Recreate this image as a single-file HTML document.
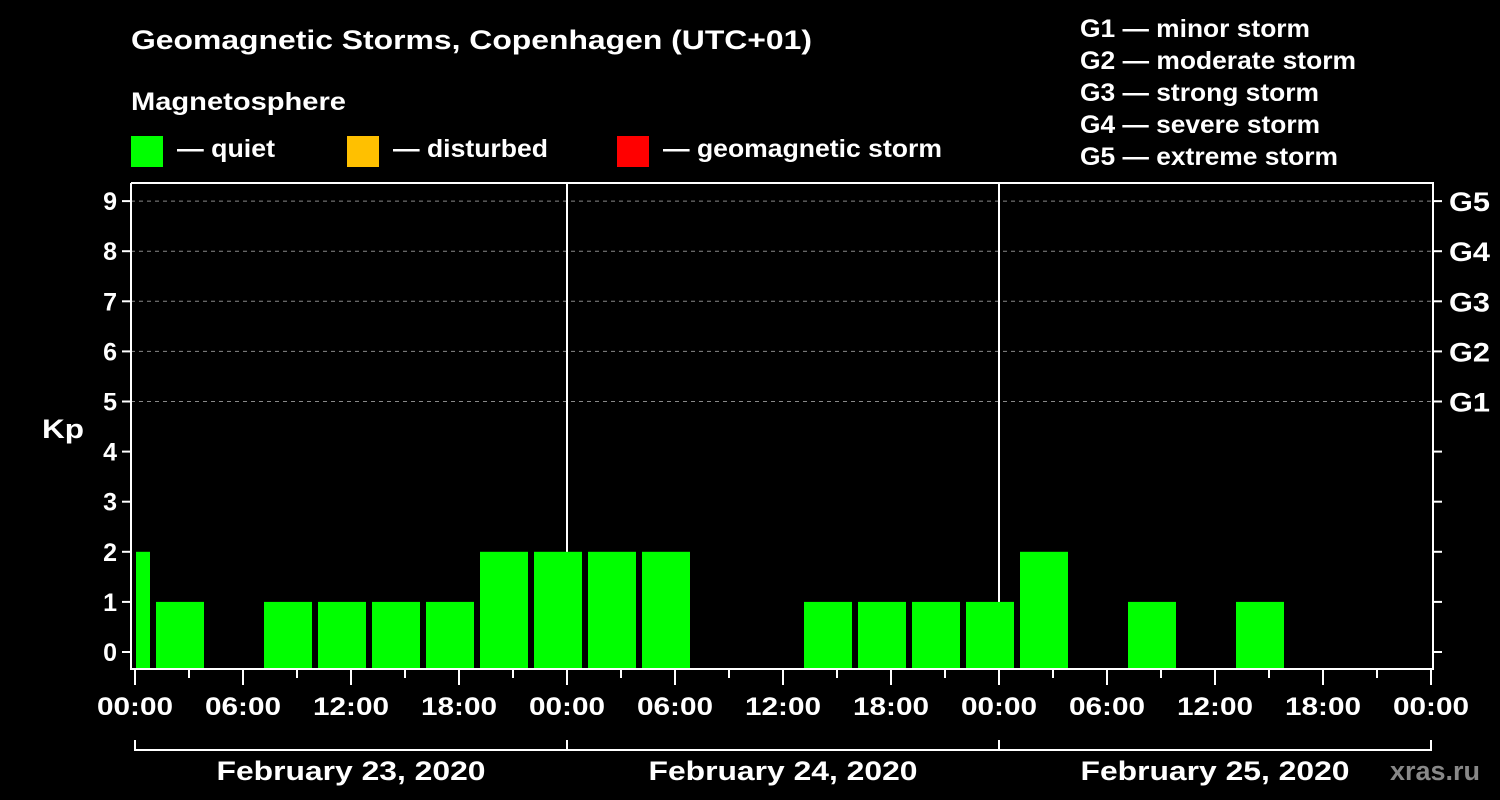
<!DOCTYPE html>
<html><head><meta charset="utf-8"><style>
body{margin:0;background:#000;}
svg{display:block;font-family:"Liberation Sans",Arial,sans-serif;font-weight:bold;}
</style></head><body>
<svg width="1500" height="800" viewBox="0 0 1500 800" font-family="Liberation Sans, Arial, sans-serif" font-weight="bold">
<rect width="1500" height="800" fill="#000"/>
<text x="131" y="49" fill="#fff" font-size="27" textLength="681" lengthAdjust="spacingAndGlyphs">Geomagnetic Storms, Copenhagen (UTC+01)</text>
<text x="131" y="110" fill="#fff" font-size="25" textLength="215" lengthAdjust="spacingAndGlyphs">Magnetosphere</text>
<g><rect x="131" y="136" width="32" height="31" fill="#00ff00"/><text x="177" y="157" fill="#fff" font-size="25" textLength="98" lengthAdjust="spacingAndGlyphs">— quiet</text></g>
<g><rect x="347" y="136" width="32" height="31" fill="#ffc000"/><text x="393" y="157" fill="#fff" font-size="25" textLength="155" lengthAdjust="spacingAndGlyphs">— disturbed</text></g>
<g><rect x="617" y="136" width="32" height="31" fill="#ff0000"/><text x="663" y="157" fill="#fff" font-size="25" textLength="279" lengthAdjust="spacingAndGlyphs">— geomagnetic storm</text></g>
<g fill="#fff" font-size="25">
<text x="1080" y="37" textLength="230" lengthAdjust="spacingAndGlyphs">G1 — minor storm</text>
<text x="1080" y="69" textLength="276" lengthAdjust="spacingAndGlyphs">G2 — moderate storm</text>
<text x="1080" y="101" textLength="239" lengthAdjust="spacingAndGlyphs">G3 — strong storm</text>
<text x="1080" y="133" textLength="240" lengthAdjust="spacingAndGlyphs">G4 — severe storm</text>
<text x="1080" y="165" textLength="258" lengthAdjust="spacingAndGlyphs">G5 — extreme storm</text>
</g>
<text x="42" y="438" fill="#fff" font-size="27" textLength="42" lengthAdjust="spacingAndGlyphs">Kp</text>
<text x="1390" y="780" fill="#888" font-size="27" textLength="90" lengthAdjust="spacingAndGlyphs">xras.ru</text>
<g id="grid"></g><g id="bars"></g><g id="axes"></g>
</svg>
<script>
const kpTicks=[0,1,2,3,4,5,6,7,8,9];
const gLabels=["G1","G2","G3","G4","G5"];
const hourLabels=["00:00","06:00","12:00","18:00"];
const dayLabels=["February 23, 2020","February 24, 2020","February 25, 2020"];
// first partial bar (Feb 23 00:00-01:00) then 3h slots starting Feb 23 01:00 (UTC+01)
const firstPartial=2;
const kpValues=[1,0,1,1,1,1,2,2,2,2,0,0,1,1,1,1,2,0,1,0,1,0,0,0];
const NS="http://www.w3.org/2000/svg";
const x0=135,pxH=18,y0=652,pxK=50.1,base=668,plotL=131,plotR=1433,plotT=183;
const X=h=>x0+h*pxH, Y=k=>y0-k*pxK;
function mk(t,a,p){const e=document.createElementNS(NS,t);for(const k in a)e.setAttribute(k,a[k]);p.appendChild(e);return e;}
const grid=document.getElementById('grid'),bars=document.getElementById('bars'),axes=document.getElementById('axes');
[5,6,7,8,9].forEach(k=>{const l=mk('line',{x1:plotL,x2:plotR,y1:Y(k),y2:Y(k),stroke:'#888','stroke-dasharray':'4,4','stroke-width':1},grid);

});
[24,48].forEach(h=>{const l=mk('line',{x1:X(h),x2:X(h),y1:plotT,y2:base,stroke:'#fff','stroke-width':2},grid);

});
function col(v){return v>=5?'#ff0000':(v>=4?'#ffc000':'#00ff00');}
if(firstPartial>0){const r=mk('rect',{x:X(0)+1,y:Y(firstPartial),width:X(1)-3-X(0)-1,height:base-Y(firstPartial),fill:col(firstPartial)},bars);

}
kpValues.forEach((v,i)=>{if(v<=0)return;const s=1+i*3;const xa=X(s)+3,xb=Math.min(X(s+3)-3,plotR-1);if(xa>=plotR)return;
const r=mk('rect',{x:xa,y:Y(v),width:xb-xa,height:base-Y(v),fill:col(v)},bars);

});
const frame=mk('polyline',{points:`${plotL},${plotT} ${plotR},${plotT} ${plotR},${base+1} ${plotL},${base+1} ${plotL},${plotT}`,fill:'none',stroke:'#fff','stroke-width':2},axes);


kpTicks.forEach(k=>{mk('line',{x1:122,x2:plotL,y1:Y(k),y2:Y(k),stroke:'#fff','stroke-width':2},axes);
mk('line',{x1:plotR,x2:1442,y1:Y(k),y2:Y(k),stroke:'#fff','stroke-width':2},axes);
const t=mk('text',{x:117,y:Y(k)+9,fill:'#fff','font-size':25,'text-anchor':'end'},axes);t.textContent=k;

});
gLabels.forEach((g,i)=>{const t=mk('text',{x:1449,y:Y(5+i)+10,fill:'#fff','font-size':27,textLength:41,lengthAdjust:'spacingAndGlyphs'},axes);t.textContent=g;

});
for(let h=0;h<=72;h+=3){const major=h%6===0;mk('line',{x1:X(h),x2:X(h),y1:base+2,y2:major?base+17:base+10,stroke:'#fff','stroke-width':2},axes);
if(major){const t=mk('text',{x:X(h),y:715,fill:'#fff','font-size':25,'text-anchor':'middle',textLength:76,lengthAdjust:'spacingAndGlyphs'},axes);t.textContent=hourLabels[(h/6)%4];

}}
const br=mk('polyline',{points:`${X(0)},740 ${X(0)},750 ${X(72)},750 ${X(72)},740`,fill:'none',stroke:'#fff','stroke-width':2},axes);


[24,48].forEach(h=>mk('line',{x1:X(h),x2:X(h),y1:740,y2:750,stroke:'#fff','stroke-width':2},axes));
dayLabels.forEach((d,i)=>{const t=mk('text',{x:X(i*24+12),y:780,fill:'#fff','font-size':27,'text-anchor':'middle',textLength:269,lengthAdjust:'spacingAndGlyphs'},axes);t.textContent=d;

});
</script>
</body></html>
